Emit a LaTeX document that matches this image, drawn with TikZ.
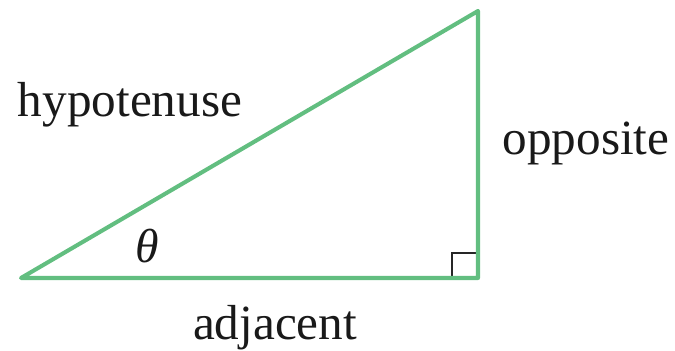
\documentclass[tikz,border=0pt]{standalone}
\usepackage{fontspec}
\setmainfont{Liberation Serif}
\usepackage{tikz}
\usetikzlibrary{positioning}
\definecolor{sidegreen}{RGB}{98,190,128}
\tikzset{
  side/.style      = {line width=2.9pt, draw=sidegreen, line join=round, line cap=round},
  rightmark/.style = {line width=1.1pt, draw=black!85},
  sidelabel/.style = {font=\fontsize{35}{41}\selectfont, text=black!90, inner sep=0pt},
  anglelabel/.style= {font=\fontsize{34}{40}\selectfont\itshape, text=black!90, inner sep=0pt},
}
\begin{document}
\begin{tikzpicture}
  \useasboundingbox (0,0) rectangle (16.875,8.775);

  % vertices
  \coordinate (A) at (0.525,1.825);
  \coordinate (B) at (11.95,1.825);
  \coordinate (C) at (11.95,8.5);

  % right angle mark
  \draw[rightmark] (11.3,1.825) -- (11.3,2.45) -- (11.95,2.45);

  % triangle
  \draw[side] (A) -- (B) -- (C) -- cycle;

  % labels
  \node[sidelabel] (hyp) at (3.25,6.15) {hypotenuse};
  \node[sidelabel] (opp) at (14.65,5.2) {opposite};
  \node[sidelabel] (adj) at (6.875,0.58) {adjacent};
  \node[anglelabel] (theta) at (3.68,2.62) {θ};
\end{tikzpicture}
\end{document}
